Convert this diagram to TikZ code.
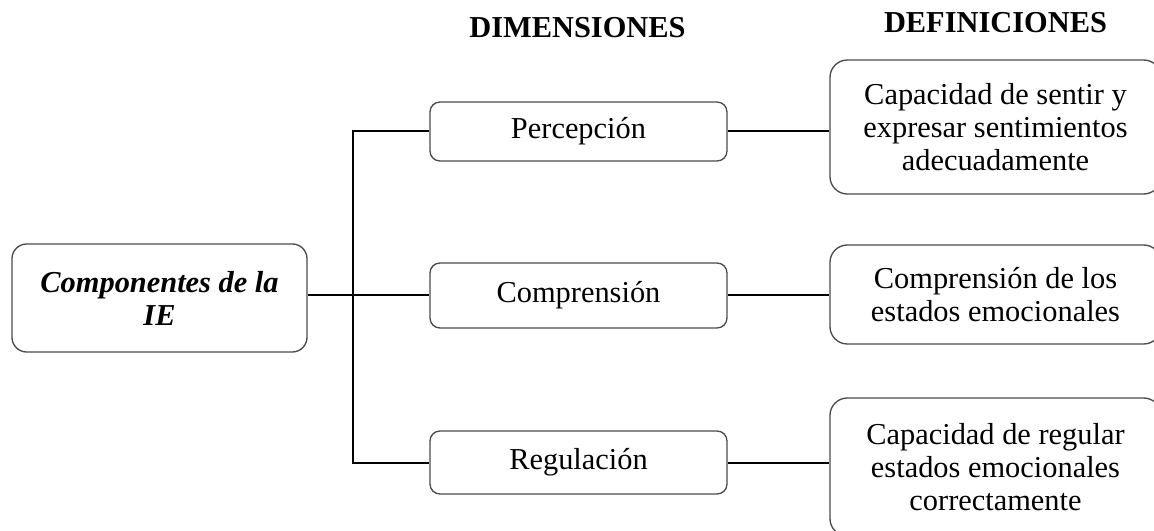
\documentclass[tikz,border=0pt]{standalone}
\usepackage{fontspec}
\setmainfont{Liberation Serif}
\begin{document}
\begin{tikzpicture}[x=0.75pt,y=-0.75pt,
  every node/.style={font=\fontsize{22.8}{24.75}\selectfont, inner sep=0pt, align=center},
  mainbox/.style={draw=black!70, line width=1pt, rounded corners=11pt, minimum width=221.25pt, minimum height=81pt},
  dimbox/.style={draw=black!70, line width=1pt, rounded corners=7.5pt, minimum width=222.75pt},
  defbox/.style={draw=black!70, line width=1pt, rounded corners=13pt, minimum width=248.25pt},
  link/.style={draw=black, line width=1.5pt},
  head/.style={font=\fontsize{22.8}{24.75}\selectfont\bfseries, anchor=base}]
\useasboundingbox (0,0) rectangle (1154,531);
\clip (0,0) rectangle (1154,531);
\fill[white] (0,0) rectangle (1154,531);

\node[head] (hdim) at (577.5,38) {DIMENSIONES};
\node[head] (hdef) at (995.5,33) {DEFINICIONES};

\node[mainbox] (ie) at (159.5,298) {\bfseries\itshape Componentes de la\\\bfseries\itshape IE};

\node[dimbox, minimum height=44.25pt] (per) at (578.5,131.5) {Percepción};
\node[dimbox, minimum height=48.75pt] (com) at (578.5,295.5) {Comprensión};
\node[dimbox, minimum height=47.25pt] (reg) at (578.5,462.5) {Regulación};

\node[defbox, minimum height=100.5pt] (dper) at (995.5,127) {Capacidad de sentir y\\expresar sentimientos\\adecuadamente};
\node[defbox, minimum height=74.25pt] (dcom) at (995.5,294.5) {Comprensión de los\\estados emocionales};
\node[defbox, minimum height=103.5pt] (dreg) at (995.5,467) {Capacidad de regular\\estados emocionales\\correctamente};

\coordinate (trunk) at (353,295);

\draw[link] (per.west) -- (per.west -| trunk) -- (reg.west -| trunk) -- (reg.west);
\draw[link] (ie.east |- trunk) -- (com.west |- trunk);
\draw[link] (per.east) -- (per.east -| dper.west);
\draw[link] (com.east) -- (com.east -| dcom.west);
\draw[link] (reg.east) -- (reg.east -| dreg.west);
\end{tikzpicture}
\end{document}
